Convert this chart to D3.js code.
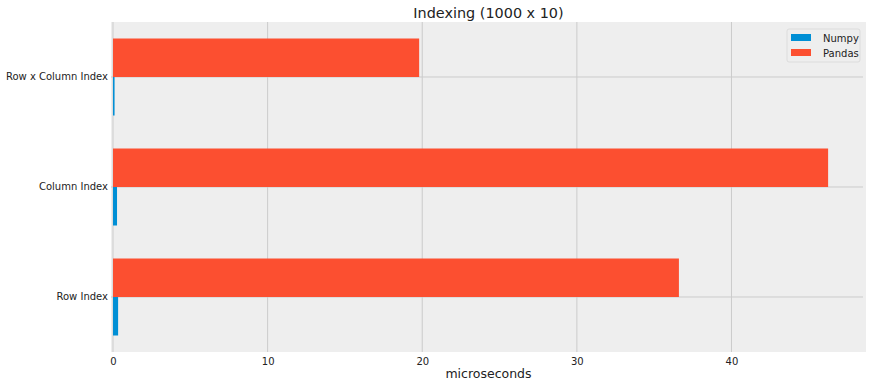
<!DOCTYPE html>
<html>
<head>
<meta charset="utf-8">
<script src="https://cdn.jsdelivr.net/npm/d3@7"></script>
<style>
  body { margin: 0; background: #ffffff; }
  text { font-family: "DejaVu Sans", sans-serif; fill: #222; }
</style>
</head>
<body>
<div id="chart"></div>
<script>
// data
var categories = ["Row x Column Index", "Column Index", "Row Index"];
var numpyVals = [0.1, 0.26, 0.33];
var pandasVals = [19.8, 46.25, 36.6];
var xTicks = [0, 10, 20, 30, 40];
var seriesNames = ["Numpy", "Pandas"];
var colors = ["#008fd5", "#fc4f30"];

var W = 870, H = 388;
var plot = {left: 111, right: 866, top: 22, bottom: 352};

var svg = d3.select("#chart").append("svg")
  .attr("width", W)
  .attr("height", H);

// background of axes
svg.append("rect")
  .attr("x", plot.left)
  .attr("y", plot.top)
  .attr("width", plot.right - plot.left)
  .attr("height", plot.bottom - plot.top)
  .attr("fill", "#eeeeee");

var x = d3.scaleLinear().domain([-0.13, 48.7]).range([plot.left, plot.right]);
var y = d3.scaleBand().domain(categories).range([plot.top, plot.bottom]).padding(0);
var barH = y.step() * 0.35;

// grid
svg.append("g").selectAll("line.vg")
  .data(xTicks)
  .enter().append("line")
  .attr("x1", d => x(d)).attr("x2", d => x(d))
  .attr("y1", plot.top).attr("y2", plot.bottom)
  .attr("stroke", "#cbcbcb").attr("stroke-width", 1);

svg.append("g").selectAll("line.hg")
  .data(categories)
  .enter().append("line")
  .attr("x1", plot.left).attr("x2", plot.right - 3)
  .attr("y1", d => y(d) + y.bandwidth() / 2).attr("y2", d => y(d) + y.bandwidth() / 2)
  .attr("stroke", "#cbcbcb").attr("stroke-width", 1);

// bars - pandas above center, numpy below
svg.append("g").selectAll("rect")
  .data(categories)
  .enter().append("rect")
  .attr("x", x(0))
  .attr("y", d => y(d) + y.bandwidth() / 2 - barH)
  .attr("width", (d, i) => x(pandasVals[i]) - x(0))
  .attr("height", barH)
  .attr("fill", colors[1]);

svg.append("g").selectAll("rect")
  .data(categories)
  .enter().append("rect")
  .attr("x", x(0))
  .attr("y", d => y(d) + y.bandwidth() / 2)
  .attr("width", (d, i) => Math.max(1, x(numpyVals[i]) - x(0)))
  .attr("height", barH)
  .attr("fill", colors[0]);

// axes
var xAxis = d3.axisBottom(x).tickValues(xTicks).tickSize(0).tickPadding(6);
var gx = svg.append("g")
  .attr("transform", "translate(0," + plot.bottom + ")")
  .call(xAxis);
gx.select(".domain").remove();
gx.selectAll("text").style("font-size", "10px").attr("fill", "#222");

var yAxis = d3.axisLeft(y).tickSize(0).tickPadding(3);
var gy = svg.append("g")
  .attr("transform", "translate(" + plot.left + ",0)")
  .call(yAxis);
gy.select(".domain").remove();
gy.selectAll("text").style("font-size", "10px").attr("fill", "#222");

// title and label
svg.append("text")
  .attr("x", (plot.left + plot.right) / 2)
  .attr("y", 18)
  .attr("text-anchor", "middle")
  .style("font-size", "14.4px")
  .text("Indexing (1000 x 10)");

svg.append("text")
  .attr("x", (plot.left + plot.right) / 2)
  .attr("y", 378)
  .attr("text-anchor", "middle")
  .style("font-size", "12.5px")
  .text("microseconds");

// legend
var legend = svg.append("g").attr("transform", "translate(787,29)");
legend.append("rect")
  .attr("width", 73).attr("height", 33)
  .attr("rx", 2)
  .attr("fill", "#eeeeee")
  .attr("stroke", "#dcdcdc");

var li = legend.selectAll("g.item")
  .data(seriesNames)
  .enter().append("g")
  .attr("transform", (d, i) => "translate(4," + (5 + i * 15) + ")");
li.append("rect")
  .attr("width", 20).attr("height", 7)
  .attr("fill", (d, i) => colors[i]);
li.append("text")
  .attr("x", 32).attr("y", 7.5)
  .style("font-size", "10px")
  .text(d => d);
</script>
</body>
</html>
